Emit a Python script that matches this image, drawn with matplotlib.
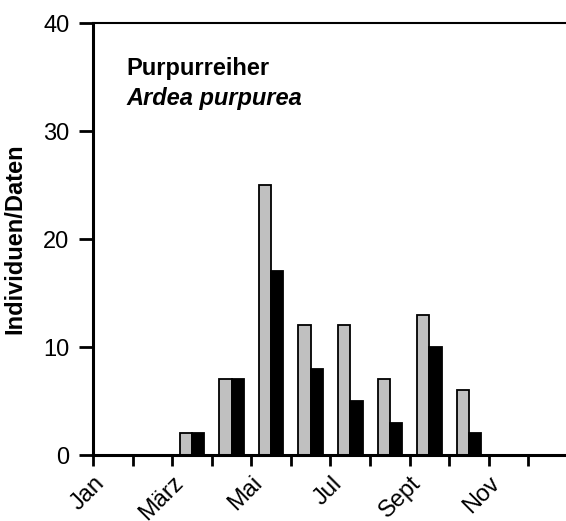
import matplotlib
matplotlib.use("Agg")
import matplotlib.pyplot as plt
import matplotlib.transforms as mtransforms
import numpy as np

months = ["Jan", "Feb", "März", "Apr", "Mai", "Jun", "Jul", "Aug", "Sept", "Okt", "Nov", "Dez"]
grey_vals = [0, 0, 2, 7, 25, 12, 12, 7, 13, 6, 0, 0]
black_vals = [0, 0, 2, 7, 17, 8, 5, 3, 10, 2, 0, 0]
label_months = ["Jan", "März", "Mai", "Jul", "Sept", "Nov"]

plt.rcParams["font.family"] = ["Liberation Sans", "DejaVu Sans"]

fig = plt.figure(figsize=(5.66, 5.21), dpi=100)
ax = fig.add_axes([93 / 566, 1 - 455 / 521, 1 - 93 / 566, (455 - 23) / 521])

x = np.arange(len(months))
w = 0.31
ax.bar(x + 0.5 - w / 2, grey_vals, width=w, color="#c0c0c0", edgecolor="black", linewidth=1.3, zorder=2)
ax.bar(x + 0.5 + w / 2, black_vals, width=w, color="black", edgecolor="black", linewidth=1.3, zorder=2)

ax.set_xlim(0, 11.95)
ax.set_ylim(0, 40)
ax.set_yticks([0, 10, 20, 30, 40])
ax.set_xticks(x)
ax.set_xticklabels([])

# rotated month labels, ending just right of their tick
trans = mtransforms.blended_transform_factory(ax.transData, ax.transAxes)
trans = trans + mtransforms.ScaledTranslation(8 / 100, -25 / 100, fig.dpi_scale_trans)
for i, m in enumerate(months):
    if m in label_months:
        ax.text(i, 0, m, transform=trans, rotation=45, ha="right", va="center",
                rotation_mode="anchor", fontsize=17, clip_on=False)

ax.tick_params(axis="y", direction="out", length=10, width=2, labelsize=17, pad=7)
ax.tick_params(axis="x", direction="out", length=8, width=2)

ax.spines["right"].set_visible(False)
ax.spines["left"].set_linewidth(2.2)
ax.spines["bottom"].set_linewidth(2.2)
ax.spines["top"].set_linewidth(1.5)

ax.set_ylabel("Individuen/Daten", fontsize=17, fontweight="bold", labelpad=12)

ax.text(0.85, 35.8, "Purpurreiher", fontsize=17, fontweight="bold", va="center")
ax.text(0.85, 33.0, "Ardea purpurea", fontsize=17, fontweight="bold", style="italic", va="center")

fig.savefig("out.png", dpi=100)
